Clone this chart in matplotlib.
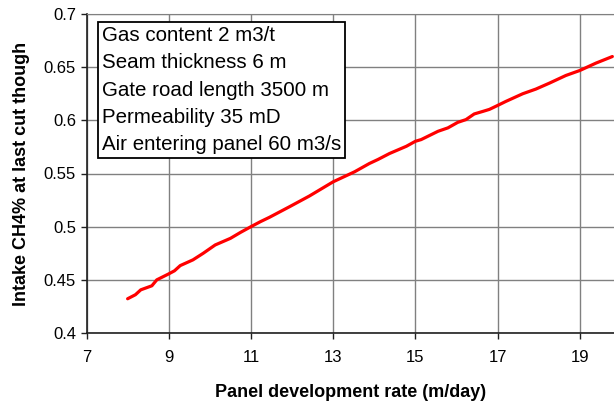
import matplotlib.pyplot as plt

plt.rcParams['font.family'] = ['Liberation Sans', 'DejaVu Sans']

# values
rate = [8.0, 8.19, 8.32, 8.59, 8.71, 9.0, 9.14, 9.28, 9.59, 9.84, 10.13, 10.5,
        10.75, 11.0, 11.23, 11.45, 11.94, 12.42, 13.0, 13.52, 13.88, 14.09,
        14.37, 14.78, 15.0, 15.14, 15.55, 15.79, 16.03, 16.23, 16.43, 16.64,
        16.8, 17.0, 17.2, 17.61, 17.93, 18.26, 18.66, 19.0, 19.39, 19.79]
ch4 = [0.4322, 0.436, 0.4406, 0.4444, 0.45, 0.4556, 0.4585, 0.4634, 0.4688,
       0.475, 0.4828, 0.489, 0.4947, 0.5, 0.5047, 0.5088, 0.5188, 0.5288,
       0.5422, 0.5516, 0.5594, 0.5632, 0.5688, 0.5756, 0.5803, 0.5819, 0.5897,
       0.5929, 0.5981, 0.6007, 0.606, 0.6084, 0.6103, 0.614, 0.6178, 0.625,
       0.6294, 0.635, 0.6422, 0.6469, 0.6538, 0.66]

x_ticks = [7, 9, 11, 13, 15, 17, 19]
y_ticks = [0.4, 0.45, 0.5, 0.55, 0.6, 0.65, 0.7]
y_labels = ['0.4', '0.45', '0.5', '0.55', '0.6', '0.65', '0.7']

notes = ['Gas content 2 m3/t',
         'Seam thickness 6 m',
         'Gate road length 3500 m',
         'Permeability 35 mD',
         'Air entering panel 60 m3/s']

fig = plt.figure(figsize=(6.14, 4.03), dpi=100)
ax = fig.add_axes([86.5 / 614, 70 / 403, 1 - 86.5 / 614, 319 / 403])

ax.plot(rate, ch4, color='#ff0000', lw=2.3, solid_capstyle='round')

ax.set_xlim(7, 19.83)
ax.set_ylim(0.4, 0.7)
ax.set_xticks(x_ticks)
ax.set_yticks(y_ticks)
ax.set_yticklabels(y_labels)
ax.grid(True, color='#808080', lw=1)
ax.set_axisbelow(True)

ax.spines['right'].set_visible(False)
ax.spines['top'].set_color('#808080')
for s in ['left', 'bottom']:
    ax.spines[s].set_color('#202020')
    ax.spines[s].set_linewidth(1.2)
ax.tick_params(direction='out', length=4, width=1, labelsize=12, colors='#202020', labelcolor='black')
ax.tick_params(axis='x', pad=8)

ax.set_xlabel('Panel development rate (m/day)', fontsize=13, fontweight='bold', labelpad=14)
ax.set_ylabel('Intake CH4% at last cut though', fontsize=13, fontweight='bold', labelpad=10)

ax.text(0.029, 0.962, '\n'.join(notes), transform=ax.transAxes, fontsize=14.8,
        va='top', ha='left', linespacing=1.55,
        bbox=dict(boxstyle='square,pad=0.2', fc='white', ec='black', lw=1.3))

fig.savefig('out.png', dpi=100)
